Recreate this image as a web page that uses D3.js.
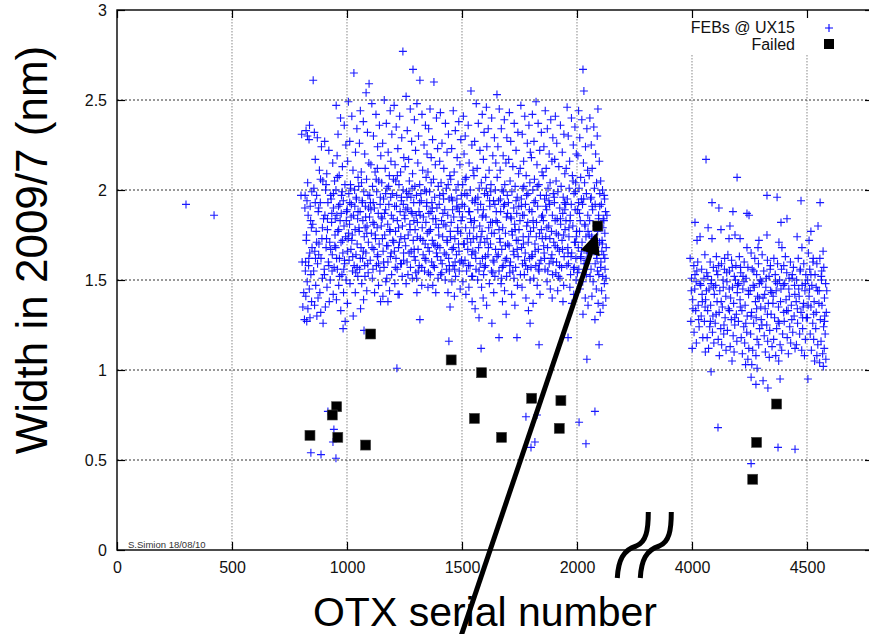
<!DOCTYPE html>
<html><head><meta charset="utf-8">
<script src="https://cdn.jsdelivr.net/npm/d3@7/dist/d3.min.js"></script>
<style>body{margin:0;background:#fff}svg{display:block;font-family:"Liberation Sans",Arial,sans-serif}</style>
</head><body><svg id="c" width="869" height="634"></svg>
<script>
// ---- data (serial number, width in nm) ----
const xTickValues = [0, 500, 1000, 1500, 2000, 4000, 4500];
const yTickValues = [0, 0.5, 1, 1.5, 2, 2.5, 3];
const legendLabels = ["FEBs @ UX15", "Failed"];

const febIsolated = [[300,1.92],[422,1.86],[843,0.54],[887,0.53],[952,0.51],[943,0.67],[939,0.60],[917,0.77],[983,1.23],[1074,1.22],[1217,1.01],[1317,1.28],[1443,1.16],[1448,1.35],[1557,1.34],[1574,1.29],[1630,1.26],[1661,1.18],[1739,1.18],[1583,1.12],[1796,1.26],[1835,1.14],[1778,0.74],[1826,0.75],[1817,0.60],[1800,0.57],[2009,0.71],[2078,0.77],[2039,0.59],[2043,1.06],[2096,1.14],[1961,1.18],[2026,1.31],[2078,1.28]];

const febMain = [
[800,1.97],[805,1.60],[803,2.31],[808,1.35],[812,1.43],[815,1.28],[817,1.90],
[822,2.33],[828,2.30],[835,2.28],[818,1.97],[826,1.94],[840,1.91],[831,1.86],[845,1.79],[823,1.72],[838,1.65],[820,1.60],[833,1.58],[843,1.53],[827,1.49],[836,1.45],[821,1.41],[846,1.38],[830,1.34],[839,1.29],[825,1.27],[842,1.83],[829,2.04],[834,1.62],[819,1.55],[847,1.99],[837,2.36],[824,1.75],[848,1.68],
[853,2.61],[858,2.32],[871,2.29],[889,2.24],[862,2.17],[880,2.11],[895,2.05],[856,2.01],[868,1.97],[884,1.93],[875,1.88],[898,1.84],[851,1.81],[866,1.77],[891,1.73],[878,1.70],[860,1.66],[887,1.62],[872,1.59],[855,1.55],[893,1.51],[864,1.47],[882,1.43],[874,1.40],[859,1.36],[886,1.32],[869,1.30],[896,1.26],[877,1.90],[863,1.62],
[903,2.27],[921,2.22],[938,2.15],[912,2.09],[946,2.05],[907,2.00],[929,1.97],[917,1.93],[941,1.90],[904,1.86],[933,1.82],[915,1.78],[948,1.75],[925,1.71],[909,1.68],[936,1.64],[919,1.60],[944,1.57],[902,1.53],[927,1.50],[913,1.46],[940,1.42],[923,1.38],[906,1.35],[931,1.95],[949,1.84],[911,1.73],[935,1.55],
[953,2.47],[972,2.40],[988,2.36],[961,2.31],[995,2.25],[957,2.19],[980,2.13],[966,2.08],[991,2.03],[952,2.00],[976,1.97],[984,1.94],[963,1.91],[998,1.88],[956,1.86],[970,1.83],[987,1.80],[960,1.77],[994,1.74],[974,1.71],[951,1.68],[982,1.65],[967,1.62],[990,1.59],[958,1.56],[978,1.53],[996,1.50],[964,1.47],[985,1.43],[954,1.39],[973,1.33],[992,1.27],[969,1.92],[981,1.72],
[1030,2.65],[1006,2.49],[1021,2.41],[1043,2.34],[1012,2.27],[1037,2.21],[1003,2.16],[1026,2.11],[1048,2.07],[1015,2.03],[1033,2.00],[1008,1.98],[1041,1.95],[1019,1.92],[1001,1.89],[1028,1.86],[1046,1.84],[1011,1.81],[1035,1.78],[1023,1.75],[1005,1.73],[1044,1.70],[1017,1.67],[1039,1.64],[1009,1.61],[1031,1.58],[1024,1.55],[1047,1.52],[1013,1.48],[1036,1.43],[1002,1.37],[1027,1.30],[1040,1.96],[1018,1.85],
[1096,2.59],[1083,2.54],[1058,2.44],[1071,2.38],[1089,2.32],[1054,2.26],[1077,2.20],[1095,2.15],[1062,2.10],[1085,2.06],[1051,2.02],[1073,1.99],[1091,1.97],[1066,1.94],[1080,1.91],[1057,1.88],[1098,1.85],[1069,1.83],[1087,1.80],[1053,1.77],[1075,1.74],[1093,1.71],[1061,1.68],[1082,1.65],[1068,1.62],[1090,1.59],[1055,1.56],[1078,1.52],[1064,1.48],[1086,1.44],[1072,1.39],[1059,1.34],[1094,1.90],[1079,1.79],
[1108,2.48],[1126,2.42],[1141,2.36],[1115,2.30],[1133,2.24],[1147,2.19],[1104,2.14],[1122,2.10],[1138,2.05],[1111,2.02],[1129,1.99],[1145,1.96],[1102,1.93],[1119,1.90],[1136,1.87],[1149,1.85],[1113,1.82],[1131,1.79],[1106,1.76],[1124,1.73],[1140,1.70],[1117,1.67],[1134,1.64],[1101,1.61],[1128,1.58],[1143,1.55],[1110,1.51],[1137,1.47],[1120,1.43],[1146,1.38],[1114,1.93],[1132,2.12],
[1162,2.50],[1188,2.44],[1171,2.37],[1195,2.31],[1155,2.26],[1179,2.21],[1191,2.16],[1166,2.12],[1184,2.08],[1151,2.04],[1174,2.01],[1197,1.98],[1159,1.95],[1182,1.92],[1168,1.89],[1193,1.86],[1153,1.84],[1177,1.81],[1186,1.78],[1164,1.75],[1199,1.72],[1172,1.69],[1157,1.66],[1189,1.63],[1178,1.60],[1161,1.57],[1194,1.53],[1169,1.49],[1185,1.44],[1178,1.38],[1156,1.41],[1190,1.96],
[1243,2.77],[1205,2.47],[1229,2.41],[1214,2.35],[1238,2.29],[1221,2.23],[1247,2.18],[1209,2.14],[1233,2.10],[1202,2.06],[1226,2.03],[1244,2.00],[1216,1.97],[1236,1.94],[1207,1.91],[1231,1.88],[1249,1.86],[1219,1.83],[1241,1.80],[1211,1.77],[1234,1.74],[1203,1.71],[1224,1.68],[1246,1.65],[1213,1.62],[1237,1.59],[1218,1.56],[1240,1.52],[1208,1.48],[1227,1.42],[1222,1.42],[1245,1.92],[1212,2.05],
[1287,2.67],[1257,2.52],[1275,2.45],[1293,2.39],[1262,2.33],[1281,2.27],[1298,2.22],[1268,2.17],[1253,2.13],[1285,2.09],[1271,2.05],[1295,2.02],[1259,1.99],[1278,1.96],[1290,1.93],[1264,1.90],[1283,1.87],[1252,1.84],[1273,1.81],[1296,1.78],[1266,1.75],[1288,1.72],[1255,1.69],[1279,1.66],[1292,1.63],[1261,1.60],[1276,1.57],[1299,1.54],[1257,1.48],[1284,1.51],[1269,1.98],[1291,1.83],
[1317,2.61],[1304,2.48],[1326,2.42],[1341,2.36],[1311,2.30],[1335,2.25],[1348,2.20],[1308,2.15],[1329,2.11],[1344,2.07],[1316,2.03],[1338,2.00],[1302,1.97],[1323,1.94],[1346,1.91],[1313,1.88],[1332,1.85],[1306,1.82],[1327,1.79],[1349,1.76],[1319,1.73],[1340,1.70],[1309,1.67],[1331,1.64],[1343,1.61],[1314,1.58],[1337,1.55],[1303,1.51],[1325,1.47],[1304,1.43],[1352,1.46],[1345,1.99],[1318,1.86],
[1378,2.60],[1361,2.45],[1389,2.40],[1355,2.34],[1372,2.28],[1394,2.23],[1366,2.18],[1384,2.14],[1352,2.10],[1376,2.06],[1397,2.02],[1359,1.99],[1381,1.96],[1369,1.93],[1391,1.90],[1356,1.87],[1374,1.84],[1387,1.81],[1363,1.78],[1399,1.75],[1371,1.72],[1383,1.69],[1358,1.66],[1393,1.63],[1368,1.60],[1380,1.57],[1354,1.54],[1396,1.51],[1373,1.47],[1386,1.43],[1365,1.88],[1377,1.70],
[1406,2.43],[1428,2.37],[1441,2.31],[1413,2.26],[1435,2.21],[1403,2.16],[1421,2.12],[1447,2.08],[1409,2.04],[1432,2.01],[1418,1.98],[1444,1.95],[1401,1.92],[1425,1.89],[1438,1.86],[1411,1.83],[1430,1.80],[1449,1.77],[1416,1.74],[1436,1.71],[1404,1.68],[1423,1.65],[1442,1.62],[1414,1.59],[1433,1.56],[1407,1.53],[1427,1.50],[1439,1.43],[1420,1.95],[1445,1.58],
[1462,2.44],[1486,2.38],[1471,2.33],[1495,2.28],[1455,2.23],[1479,2.18],[1491,2.14],[1466,2.10],[1451,2.06],[1483,2.03],[1474,2.00],[1497,1.97],[1458,1.94],[1477,1.91],[1489,1.88],[1464,1.85],[1453,1.82],[1481,1.79],[1494,1.76],[1469,1.73],[1485,1.70],[1457,1.67],[1476,1.64],[1498,1.61],[1461,1.58],[1488,1.55],[1472,1.52],[1456,1.49],[1492,1.45],[1467,1.41],[1482,1.90],[1470,1.60],
[1539,2.55],[1506,2.41],[1527,2.36],[1514,2.30],[1543,2.25],[1509,2.20],[1531,2.15],[1548,2.11],[1518,2.07],[1503,2.03],[1536,2.00],[1522,1.97],[1545,1.94],[1511,1.91],[1529,1.88],[1502,1.85],[1540,1.82],[1516,1.79],[1533,1.76],[1549,1.73],[1507,1.70],[1525,1.67],[1542,1.64],[1513,1.61],[1535,1.58],[1520,1.55],[1546,1.52],[1504,1.49],[1530,1.46],[1517,1.42],[1544,1.38],[1512,1.98],[1538,1.71],
[1562,2.48],[1588,2.42],[1571,2.37],[1596,2.32],[1555,2.27],[1578,2.22],[1593,2.17],[1566,2.12],[1552,2.08],[1584,2.04],[1575,2.01],[1598,1.98],[1559,1.95],[1581,1.92],[1569,1.89],[1591,1.86],[1554,1.83],[1577,1.80],[1587,1.77],[1564,1.74],[1599,1.71],[1572,1.68],[1557,1.65],[1589,1.62],[1579,1.59],[1561,1.56],[1594,1.53],[1568,1.50],[1585,1.46],[1592,1.40],
[1652,2.53],[1606,2.46],[1629,2.40],[1614,2.34],[1641,2.29],[1608,2.24],[1634,2.19],[1647,2.15],[1618,2.11],[1603,2.07],[1626,2.03],[1645,2.00],[1611,1.97],[1637,1.94],[1621,1.91],[1649,1.88],[1604,1.85],[1632,1.82],[1616,1.79],[1640,1.76],[1609,1.73],[1624,1.70],[1646,1.67],[1613,1.64],[1635,1.61],[1602,1.58],[1628,1.55],[1643,1.52],[1619,1.48],[1638,1.43],[1607,1.36],[1625,1.99],
[1662,2.45],[1684,2.39],[1671,2.34],[1695,2.29],[1656,2.24],[1679,2.19],[1691,2.15],[1666,2.11],[1653,2.07],[1686,2.03],[1674,2.00],[1697,1.97],[1659,1.94],[1681,1.91],[1668,1.88],[1693,1.85],[1654,1.82],[1677,1.79],[1689,1.76],[1664,1.73],[1699,1.70],[1673,1.67],[1658,1.64],[1688,1.61],[1679,1.58],[1661,1.55],[1694,1.52],[1670,1.48],[1685,1.44],[1676,1.38],[1692,1.31],[1667,1.95],
[1706,2.43],[1727,2.37],[1743,2.32],[1712,2.27],[1735,2.22],[1703,2.17],[1721,2.13],[1746,2.09],[1709,2.05],[1731,2.02],[1717,1.99],[1740,1.96],[1702,1.93],[1725,1.90],[1738,1.87],[1714,1.84],[1729,1.81],[1748,1.78],[1719,1.75],[1736,1.72],[1705,1.69],[1723,1.66],[1744,1.63],[1711,1.60],[1733,1.57],[1708,1.54],[1726,1.51],[1741,1.47],[1716,1.42],[1730,1.36],[1747,1.91],
[1756,2.47],[1773,2.41],[1791,2.36],[1762,2.31],[1784,2.26],[1797,2.21],[1768,2.16],[1753,2.12],[1779,2.08],[1795,2.04],[1765,2.01],[1787,1.98],[1758,1.95],[1776,1.92],[1793,1.89],[1770,1.86],[1752,1.83],[1781,1.80],[1798,1.77],[1766,1.74],[1788,1.71],[1759,1.68],[1775,1.65],[1794,1.62],[1763,1.59],[1785,1.56],[1771,1.53],[1796,1.50],[1761,1.46],[1778,1.40],[1789,1.33],[1769,2.02],
[1822,2.49],[1806,2.42],[1831,2.37],[1845,2.32],[1813,2.27],[1838,2.22],[1802,2.18],[1826,2.14],[1848,2.10],[1815,2.06],[1834,2.03],[1808,2.00],[1841,1.97],[1819,1.94],[1829,1.91],[1804,1.88],[1846,1.85],[1824,1.82],[1811,1.79],[1837,1.76],[1849,1.73],[1817,1.70],[1832,1.67],[1805,1.64],[1843,1.61],[1821,1.58],[1835,1.55],[1812,1.51],[1827,1.47],[1839,1.42],[1809,1.37],
[1862,2.44],[1886,2.39],[1871,2.34],[1895,2.29],[1856,2.24],[1879,2.20],[1891,2.16],[1866,2.12],[1853,2.08],[1883,2.04],[1874,2.01],[1897,1.98],[1859,1.95],[1881,1.92],[1868,1.89],[1893,1.86],[1854,1.83],[1877,1.80],[1889,1.77],[1864,1.74],[1899,1.71],[1872,1.68],[1857,1.65],[1887,1.62],[1879,1.59],[1861,1.56],[1894,1.53],[1870,1.49],[1884,1.45],[1892,1.40],[1867,1.97],
[1906,2.41],[1928,2.36],[1943,2.31],[1912,2.26],[1936,2.21],[1903,2.17],[1921,2.13],[1947,2.09],[1909,2.05],[1931,2.02],[1917,1.99],[1940,1.96],[1902,1.93],[1925,1.90],[1938,1.87],[1914,1.84],[1929,1.81],[1948,1.78],[1919,1.75],[1935,1.72],[1905,1.69],[1923,1.66],[1944,1.63],[1911,1.60],[1933,1.57],[1908,1.54],[1926,1.51],[1942,1.47],[1916,1.44],[1939,1.38],[1946,1.93],
[1957,2.46],[1976,2.40],[1991,2.35],[1962,2.30],[1984,2.25],[1997,2.20],[1968,2.16],[1953,2.12],[1980,2.08],[1994,2.04],[1966,2.01],[1987,1.98],[1958,1.95],[1975,1.92],[1992,1.89],[1971,1.86],[1952,1.83],[1982,1.80],[1998,1.77],[1965,1.74],[1989,1.71],[1960,1.68],[1977,1.65],[1995,1.62],[1963,1.59],[1985,1.56],[1972,1.53],[1996,1.50],[1969,1.46],[1986,1.42],[1978,1.37],[1993,1.99],
[2026,2.67],[2030,2.55],[2007,2.44],[2021,2.39],[2043,2.34],[2012,2.29],[2037,2.24],[2004,2.19],[2028,2.15],[2046,2.11],[2016,2.07],[2033,2.04],[2009,2.01],[2041,1.98],[2019,1.95],[2024,1.92],[2003,1.89],[2047,1.86],[2014,1.83],[2035,1.80],[2011,1.77],[2039,1.74],[2022,1.71],[2006,1.68],[2044,1.65],[2017,1.62],[2031,1.59],[2008,1.56],[2040,1.53],[2025,1.49],[2013,1.45],[2036,1.40],[2048,1.36],
[2091,2.45],[2056,2.40],[2073,2.35],[2088,2.30],[2062,2.25],[2081,2.20],[2097,2.16],[2066,2.12],[2053,2.08],[2085,2.04],[2076,2.01],[2099,1.98],[2059,1.95],[2079,1.92],[2068,1.89],[2094,1.86],[2055,1.83],[2083,1.80],[2090,1.77],[2064,1.74],[2098,1.71],[2072,1.68],[2058,1.65],[2087,1.62],[2079,1.59],[2061,1.56],[2095,1.53],[2070,1.49],[2084,1.45],[2065,1.41],[2092,1.37],
[2103,2.05],[2111,2.00],[2118,1.97],[2106,1.92],[2124,1.88],[2114,1.84],[2102,1.80],[2121,1.76],[2109,1.72],[2127,1.68],[2116,1.64],[2104,1.60],[2122,1.56],[2112,1.52],[2119,1.48],[2107,1.44],[2125,1.40],[2113,1.36],[2101,1.32],[2120,1.95],[2110,1.70]
];

const febCore = [
[862,1.93],[877,1.64],[893,1.79],[909,2.03],[921,1.58],[934,1.87],[947,1.69],[958,2.07],[968,1.52],[979,1.99],[989,1.61],[997,1.83],[1007,1.76],[1016,2.01],[1025,1.63],[1034,1.91],[1044,1.57],[1052,1.79],[1063,2.04],[1071,1.66],[1081,1.85],[1092,1.54],[1099,1.97],[1109,1.68],[1118,1.81],[1127,2.06],[1137,1.59],[1144,1.92],[1154,1.73],[1163,1.87],[1173,1.51],[1181,2.02],[1192,1.65],[1201,1.84],[1210,1.57],[1219,2.08],[1228,1.71],[1237,1.96],[1246,1.61],[1256,1.89],[1265,1.53],[1274,1.78],[1283,2.01],[1292,1.67],[1301,1.86],[1310,1.55],[1321,1.98],[1330,1.72],[1339,1.62],[1347,1.93],[1357,1.77],[1366,2.04],[1375,1.58],[1385,1.84],[1394,1.69],[1403,1.97],[1412,1.54],[1421,1.81],[1431,1.64],[1440,2.03],[1450,1.74],[1459,1.89],[1468,1.56],[1478,1.95],[1487,1.66],[1496,1.83],[1505,1.59],[1514,2.06],[1523,1.73],[1533,1.88],[1542,1.52],[1551,1.79],[1560,1.62],[1569,1.96],[1579,1.71],[1588,1.85],[1597,1.57],[1606,2.01],[1615,1.68],[1624,1.82],[1634,1.54],[1643,1.92],[1652,1.63],[1661,1.78],[1671,1.51],[1680,1.99],[1689,1.69],[1698,1.87],[1708,1.58],[1717,1.77],[1726,1.64],[1735,1.94],[1744,1.72],[1754,1.53],[1763,1.86],[1772,1.61],[1781,1.97],[1790,1.74],[1800,1.57],[1809,1.83],[1818,1.66],[1827,2.02],[1836,1.59],[1845,1.78],[1855,1.69],[1864,1.91],[1873,1.55],[1882,1.73],[1891,1.64],[1901,1.96],[1910,1.76],[1919,1.52],[1928,1.84],[1937,1.67],[1947,1.89],[1956,1.58],[1965,1.79],[1974,1.63],[1983,2.05],[1993,1.71],[2002,1.54],[2011,1.87],[2020,1.66],[2029,1.95],[2039,1.61],[2048,1.77],[2057,1.52],[2066,1.91],[2075,1.73],[2085,1.64],[2094,1.84],[2103,1.57],[2112,1.79],[2121,1.62],[2130,1.86],
[868,1.71],[885,2.06],[901,1.56],[915,1.84],[929,1.67],[941,1.98],[955,1.62],[964,1.78],[975,1.87],[986,1.56],[1003,1.66],[1012,1.93],[1021,1.72],[1038,1.54],[1048,1.88],[1058,1.62],[1067,1.93],[1077,1.58],[1086,1.76],[1104,1.89],[1113,1.56],[1123,1.75],[1132,1.63],[1149,1.80],[1159,1.60],[1168,1.98],[1178,1.69],[1187,1.77],[1206,1.66],[1215,1.91],[1224,1.79],[1233,1.59],[1251,1.73],[1261,1.96],[1270,1.65],[1279,1.88],[1297,1.61],[1306,1.74],[1316,1.93],[1325,1.57],[1343,1.82],[1352,1.68],[1362,1.53],[1371,1.90],[1389,1.65],[1398,1.79],[1408,1.61],[1417,1.87],[1435,1.72],[1445,1.55],[1454,1.96],[1463,1.68],[1482,1.77],[1491,1.60],[1501,1.92],[1510,1.70],[1528,1.58],[1537,1.84],[1547,1.66],[1556,1.93],[1574,1.55],[1583,1.74],[1593,1.89],[1602,1.63],[1620,1.94],[1629,1.76],[1639,1.60],[1648,1.83],[1666,1.71],[1675,1.57],[1685,1.92],[1694,1.62],[1712,1.85],[1721,1.55],[1731,1.78],[1740,1.67],[1758,1.91],[1767,1.70],[1777,1.58],[1786,1.82],[1804,1.63],[1813,1.93],[1823,1.74],[1832,1.56],[1850,1.86],[1859,1.62],[1869,1.79],[1878,1.94],[1896,1.60],[1905,1.83],[1915,1.68],[1924,1.58],[1942,1.75],[1951,1.92],[1961,1.65],[1970,1.83],[1988,1.57],[1997,1.74],[2007,1.93],[2016,1.63],[2034,1.81],[2043,1.59],[2053,1.75],[2062,1.96],[2080,1.68],[2089,1.55],[2099,1.91],[2108,1.66],[2117,1.83],[2126,1.51]
];

const febSecond = [
[3992,1.62],[4008,1.58],[4021,1.55],[3998,1.51],[4035,1.48],[4012,1.45],[4044,1.42],[4003,1.39],[4027,1.36],[4016,1.33],[4040,1.30],[3995,1.27],[4031,1.24],[4009,1.21],[4047,1.18],[4019,1.15],[4001,1.12],[4038,1.47],[4013,1.53],[4025,1.60],[4035,1.74],[4013,1.82],[4022,1.72],[4045,1.38],[3997,1.44],
[4061,2.17],[4087,1.93],[4070,1.79],[4087,1.73],[4056,1.64],[4079,1.60],[4093,1.57],[4064,1.54],[4052,1.51],[4083,1.48],[4074,1.45],[4097,1.42],[4059,1.39],[4081,1.36],[4068,1.33],[4091,1.30],[4054,1.27],[4077,1.24],[4089,1.21],[4066,1.18],[4083,0.99],[4095,1.15],[4072,1.12],[4058,1.10],[4085,1.50],[4063,1.44],
[4117,1.90],[4126,1.78],[4113,0.68],[4106,1.63],[4128,1.59],[4141,1.56],[4112,1.53],[4135,1.50],[4103,1.47],[4121,1.44],[4147,1.41],[4109,1.38],[4132,1.35],[4118,1.32],[4144,1.29],[4101,1.26],[4125,1.23],[4138,1.20],[4114,1.17],[4129,1.14],[4148,1.11],[4119,1.08],[4136,1.46],[4107,1.55],[4142,1.62],
[4196,2.07],[4178,1.88],[4165,1.80],[4161,1.73],[4187,1.75],[4156,1.64],[4172,1.61],[4191,1.58],[4163,1.55],[4184,1.52],[4152,1.49],[4176,1.46],[4197,1.43],[4168,1.40],[4181,1.37],[4158,1.34],[4193,1.31],[4171,1.28],[4186,1.25],[4154,1.22],[4179,1.19],[4195,1.16],[4166,1.13],[4183,1.10],[4174,1.05],[4162,1.45],[4189,1.50],
[4239,1.87],[4248,1.86],[4209,1.73],[4239,1.68],[4206,1.63],[4227,1.60],[4243,1.57],[4212,1.54],[4235,1.51],[4203,1.48],[4221,1.45],[4246,1.42],[4209,1.39],[4231,1.36],[4217,1.33],[4240,1.30],[4202,1.27],[4225,1.24],[4238,1.21],[4214,1.18],[4229,1.15],[4247,1.12],[4219,1.09],[4243,1.06],[4233,1.03],[4226,1.49],[4211,1.57],
[4291,1.72],[4287,1.68],[4257,1.65],[4273,1.62],[4289,1.59],[4262,1.56],[4281,1.53],[4297,1.50],[4266,1.47],[4253,1.44],[4285,1.41],[4276,1.38],[4299,1.35],[4259,1.32],[4279,1.29],[4268,1.26],[4294,1.23],[4255,1.20],[4283,1.17],[4290,1.14],[4264,1.11],[4278,1.08],[4257,0.96],[4278,0.92],[4260,1.03],[4283,1.01],[4257,0.48],[4271,1.46],[4292,1.40],
[4326,1.97],[4326,1.75],[4309,0.94],[4330,0.90],[4305,1.64],[4328,1.61],[4341,1.58],[4312,1.55],[4335,1.52],[4303,1.49],[4321,1.46],[4347,1.43],[4309,1.40],[4332,1.37],[4318,1.34],[4344,1.31],[4301,1.28],[4325,1.25],[4338,1.22],[4314,1.19],[4329,1.16],[4348,1.13],[4319,1.10],[4336,1.07],[4323,1.51],[4342,1.44],
[4370,1.96],[4387,1.82],[4378,1.71],[4391,1.68],[4374,0.57],[4383,0.95],[4356,1.62],[4372,1.59],[4389,1.56],[4362,1.53],[4381,1.50],[4397,1.47],[4366,1.44],[4353,1.41],[4385,1.38],[4376,1.35],[4399,1.32],[4359,1.29],[4379,1.26],[4368,1.23],[4394,1.20],[4355,1.17],[4383,1.14],[4390,1.11],[4364,1.08],[4377,1.05],[4371,1.48],
[4413,1.84],[4448,0.56],[4406,1.63],[4428,1.60],[4441,1.57],[4412,1.54],[4435,1.51],[4403,1.48],[4421,1.45],[4447,1.42],[4409,1.39],[4432,1.36],[4418,1.33],[4444,1.30],[4401,1.27],[4425,1.24],[4438,1.21],[4414,1.18],[4429,1.15],[4448,1.12],[4419,1.09],[4436,1.53],[4423,1.41],
[4474,1.94],[4457,1.74],[4478,1.68],[4462,1.62],[4486,1.59],[4471,1.56],[4495,1.53],[4455,1.50],[4479,1.47],[4491,1.44],[4466,1.41],[4453,1.38],[4483,1.35],[4474,1.32],[4497,1.29],[4459,1.26],[4481,1.23],[4468,1.20],[4493,1.17],[4454,1.14],[4477,1.11],[4489,1.08],[4464,1.45],[4485,1.37],
[4509,1.72],[4517,1.77],[4504,0.95],[4506,1.65],[4527,1.62],[4543,1.59],[4512,1.56],[4535,1.53],[4503,1.50],[4521,1.47],[4546,1.44],[4509,1.41],[4531,1.38],[4517,1.35],[4540,1.32],[4502,1.29],[4525,1.26],[4538,1.23],[4514,1.20],[4529,1.17],[4547,1.14],[4519,1.11],[4543,1.08],[4533,1.05],[4526,1.60],[4511,1.45],
[4557,1.93],[4548,1.80],[4570,1.66],[4556,1.62],[4573,1.57],[4562,1.52],[4581,1.48],[4553,1.44],[4576,1.40],[4565,1.36],[4584,1.32],[4558,1.28],[4572,1.24],[4579,1.20],[4561,1.16],[4575,1.12],[4568,1.09],[4582,1.06],[4555,1.04],[4571,1.02],[4563,1.50],[4577,1.30],
[4004,1.34],[4018,1.49],[4029,1.28],[4042,1.56],[4057,1.35],[4069,1.52],[4080,1.27],[4094,1.46],[4105,1.31],[4116,1.58],[4127,1.38],[4139,1.25],[4151,1.54],[4163,1.33],[4175,1.57],[4186,1.29],[4198,1.47],[4210,1.35],[4222,1.52],[4234,1.26],[4245,1.44],[4257,1.30],[4269,1.55],[4281,1.34],[4293,1.48],[4304,1.25],[4316,1.42],[4328,1.31],[4340,1.56],[4352,1.37],[4363,1.49],[4375,1.27],[4387,1.45],[4399,1.58],[4411,1.33],[4422,1.51],[4434,1.28],[4446,1.47],[4458,1.34],[4470,1.55],[4481,1.29],[4493,1.48],[4505,1.36],[4517,1.53],[4529,1.31],[4540,1.46],[4552,1.37],[4564,1.55],[4576,1.27],[4586,1.44]
];

const failed = [[1103,1.20],[1453,1.056],[1585,0.985],[1803,0.843],[1930,0.83],[1554,0.731],[1923,0.676],[1672,0.626],[955,0.796],[936,0.75],[839,0.637],[960,0.626],[1081,0.583],[2090,1.80],[4368,0.811],[4281,0.598],[4264,0.393]];

// ---- layout ----
const svg = d3.select("#c");
const L = 117, R = 873, T = 10, B = 550;
// broken axis: serials >= 3000 are shifted left by 1500
const brk = s => s >= 3000 ? s - 1500 : s;
const x = d3.scaleLinear().domain([0, 3287]).range([L, R]);
const y = d3.scaleLinear().domain([0, 3]).range([B, T]);
const X = s => x(brk(s));

svg.append("rect").attr("width", 869).attr("height", 634).attr("fill", "#fff");

// grid
const g = svg.append("g");
g.selectAll(".vg").data(xTickValues.slice(1)).join("line")
  .attr("x1", d => X(d)).attr("x2", d => X(d)).attr("y1", T).attr("y2", B)
  .attr("stroke", "#888").attr("stroke-width", 1).attr("stroke-dasharray", "1.5,1.5");
g.selectAll(".hg").data(yTickValues.slice(1, -1)).join("line")
  .attr("x1", L).attr("x2", R).attr("y1", d => y(d)).attr("y2", d => y(d))
  .attr("stroke", "#333").attr("stroke-width", 1).attr("stroke-dasharray", "2,2");

// legend background box
svg.append("rect").attr("x", 684).attr("y", T + 1).attr("width", 190).attr("height", 44).attr("fill", "#fff");

// axes (ticks inward)
const fmt = d => String(d);
const ax = svg.append("g").attr("transform", `translate(0,${B})`)
  .call(d3.axisBottom(x).tickValues(xTickValues.map(brk)).tickFormat((d, i) => fmt(xTickValues[i])).tickSizeInner(-8).tickSizeOuter(0).tickPadding(11.5));
const ay = svg.append("g").attr("transform", `translate(${L},0)`)
  .call(d3.axisLeft(y).tickValues(yTickValues).tickFormat(d => fmt(d)).tickSizeInner(-8).tickSizeOuter(0).tickPadding(10));
const at = svg.append("g").attr("transform", `translate(0,${T})`)
  .call(d3.axisTop(x).tickValues(xTickValues.map(brk)).tickFormat("").tickSizeInner(-8).tickSizeOuter(0));
const ar = svg.append("g").attr("transform", `translate(${R},0)`)
  .call(d3.axisRight(y).tickValues(yTickValues).tickFormat("").tickSizeInner(-8).tickSizeOuter(0));
[ax, ay, at, ar].forEach(a => {
  a.select(".domain").remove();
  a.selectAll(".tick line").attr("stroke", "#000").attr("stroke-width", 1.2);
  a.selectAll("text").attr("font-size", 16).attr("fill", "#111").attr("font-family", "Liberation Sans, Arial, sans-serif");
});
svg.append("rect").attr("x", L).attr("y", T).attr("width", R - L).attr("height", B - T)
  .attr("fill", "none").attr("stroke", "#000").attr("stroke-width", 1.4);

// points
const plus = "M-4,0H4M0,-4V4";
const allFeb = febIsolated.concat(febMain, febCore, febSecond);
svg.append("g").selectAll("path").data(allFeb).join("path")
  .attr("d", plus).attr("transform", d => `translate(${X(d[0])},${y(d[1])})`)
  .attr("stroke", "#0000ff").attr("stroke-width", 1.1).attr("stroke-opacity", 0.9).attr("fill", "none");
svg.append("g").selectAll("rect").data(failed).join("rect")
  .attr("x", d => X(d[0]) - 5).attr("y", d => y(d[1]) - 5).attr("width", 10).attr("height", 10)
  .attr("fill", "#000").attr("stroke", "#444").attr("stroke-width", 0.6);

// legend
const leg = svg.append("g").attr("font-size", 16).attr("fill", "#111").attr("text-anchor", "end");
leg.append("text").attr("x", 795).attr("y", 33).text(legendLabels[0]);
leg.append("text").attr("x", 795).attr("y", 50).text(legendLabels[1]);
svg.append("path").attr("d", plus).attr("transform", "translate(829,28)").attr("stroke", "#0000ff").attr("stroke-width", 1.1).attr("fill", "none");
svg.append("rect").attr("x", 824).attr("y", 39).attr("width", 10).attr("height", 10).attr("fill", "#000");

// signature
svg.append("text").attr("x", 128).attr("y", 548).attr("font-size", 9.5).attr("fill", "#333").text("S.Simion 18/08/10");

// axis titles
svg.append("text").attr("transform", `translate(47,250) rotate(-90)`).attr("text-anchor", "middle")
  .attr("font-size", 44).attr("fill", "#000").text("Width in 2009/7 (nm)");
svg.append("text").attr("x", 485).attr("y", 626).attr("text-anchor", "middle")
  .attr("font-size", 41).attr("fill", "#000").text("OTX serial number");

// axis-break marks
const bx = x(2310), by = B;
[0, 23].forEach(o => {
  const p = d3.path();
  p.moveTo(bx + o, by - 38);
  p.bezierCurveTo(bx + o, by - 20, bx + o - 2, by - 8, bx + o - 12, by - 4);
  p.bezierCurveTo(bx + o - 25, by, bx + o - 30, by + 10, bx + o - 31, by + 28);
  svg.append("path").attr("d", p.toString()).attr("fill", "none").attr("stroke", "#000").attr("stroke-width", 5);
});

// arrow to the failed FEB at serial 2090
const tip = [X(2088), y(1.765)], tail = [X(1490), y(-0.5)];
svg.append("line").attr("x1", tail[0]).attr("y1", tail[1]).attr("x2", tip[0] - 5).attr("y2", tip[1] + 16)
  .attr("stroke", "#000").attr("stroke-width", 5);
const ang = Math.atan2(tip[1] - tail[1], tip[0] - tail[0]);
const hl = 22, hw = 10;
const bxp = tip[0] - hl * Math.cos(ang), byp = tip[1] - hl * Math.sin(ang);
svg.append("path").attr("d", `M${tip[0]},${tip[1]}L${bxp + hw * Math.sin(ang)},${byp - hw * Math.cos(ang)}L${bxp - hw * Math.sin(ang)},${byp + hw * Math.cos(ang)}Z`)
  .attr("fill", "#000");
</script></body></html>
